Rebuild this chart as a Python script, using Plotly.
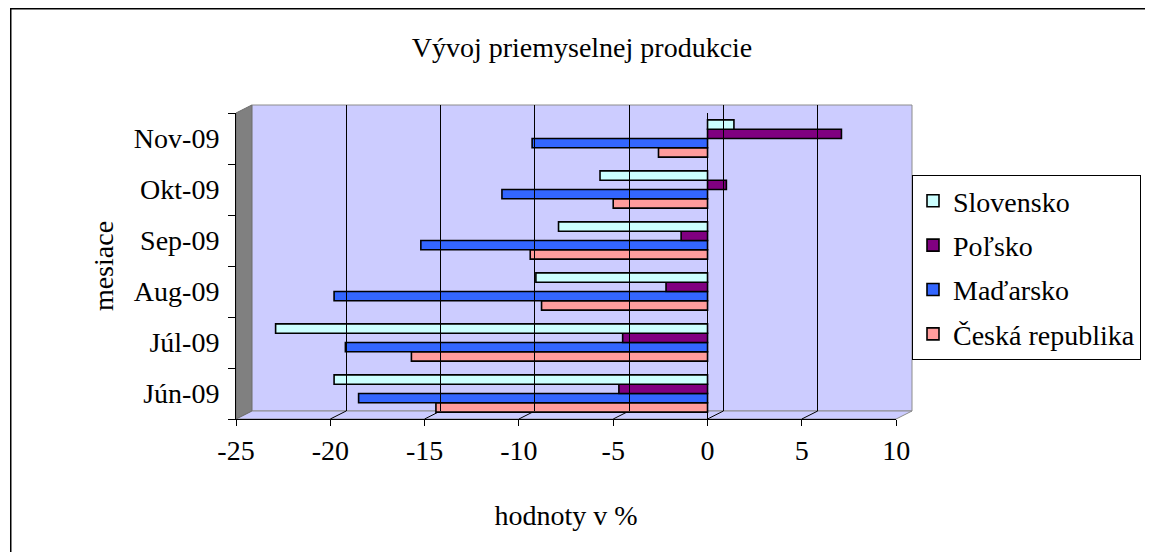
import plotly.graph_objects as go

# ---------------- data ----------------
months = ["Jún-09", "Júl-09", "Aug-09", "Sep-09", "Okt-09", "Nov-09"]
slovensko = [-19.8, -22.9, -9.1, -7.9, -5.7, 1.4]
polsko = [-4.7, -4.5, -2.2, -1.4, 1.0, 7.1]
madarsko = [-18.5, -19.2, -19.8, -15.2, -10.9, -9.3]
ceska = [-14.4, -15.7, -8.8, -9.4, -5.0, -2.6]
x_ticks = [-25, -20, -15, -10, -5, 0, 5, 10]

series_names = ["Česká republika", "Maďarsko", "Poľsko", "Slovensko"]
series_values = [ceska, madarsko, polsko, slovensko]
series_colors = ["#FF9C9C", "#3366FF", "#800080", "#CCFFFF"]
legend_ranks = [4, 3, 2, 1]

# ---------------- geometry (page pixels of the reference) ----------------
PAGE_W, PAGE_H = 1153, 552
OFF = 8                     # browser body margin
W, H = PAGE_W - OFF, PAGE_H - OFF
L, RIGHT = 236, 918         # paper area left/right (page px)
TOP, B = 105, 419           # paper area top/bottom (page px)
DX, DY = 16, 8              # 3-D depth offset
PW, PH = RIGHT - L, B - TOP


def px(x):
    return (x - L) / PW


def py(y):
    return (B - y) / PH


FONT = "Liberation Serif"
FS = 28
WALL = "#CCCCFF"
EDGE = "#8C8C8C"

fig = go.Figure()

for name, vals, col, rank in zip(series_names, series_values, series_colors, legend_ranks):
    fig.add_trace(go.Bar(
        y=months, x=vals, orientation="h", name=name, legendgroup=name, legendrank=rank,
        marker=dict(color=col, line=dict(color="black", width=1.6)),
        xaxis="x", yaxis="y",
    ))

# invisible trace for the back-wall subplot
fig.add_trace(go.Scatter(x=[None], y=[None], xaxis="x2", yaxis="y2",
                         showlegend=False, hoverinfo="skip"))

shapes = []
# outer chart frame
shapes.append(dict(type="rect", xref="paper", yref="paper",
                   x0=px(OFF + 0.75), x1=px(PAGE_W + 10), y0=py(PAGE_H + 10), y1=py(OFF + 0.75),
                   line=dict(color="black", width=1.5), layer="below"))
# back wall
shapes.append(dict(type="rect", xref="paper", yref="paper",
                   x0=px(L + DX), x1=px(RIGHT), y0=py(B - DY), y1=py(TOP),
                   fillcolor=WALL, line=dict(color=EDGE, width=1), layer="below"))
# floor
shapes.append(dict(type="path", xref="paper", yref="paper",
                   path=f"M {px(L)} {py(B)} L {px(L+DX)} {py(B-DY)} L {px(RIGHT)} {py(B-DY)} "
                        f"L {px(RIGHT-DX)} {py(B)} Z",
                   fillcolor=WALL, line=dict(color=EDGE, width=1), layer="below"))
# left wall
shapes.append(dict(type="path", xref="paper", yref="paper",
                   path=f"M {px(L)} {py(B)} L {px(L+DX)} {py(B-DY)} L {px(L+DX)} {py(TOP)} "
                        f"L {px(L)} {py(TOP+DY)} Z",
                   fillcolor="#808080", line=dict(color="#6E6E6E", width=1), layer="below"))
# floor grid diagonals
unit_px = (RIGHT - DX - L) / (x_ticks[-1] - x_ticks[0])
for v in x_ticks[1:]:
    shapes.append(dict(type="line", xref="x", yref="paper",
                       x0=v, x1=v + DX / unit_px, y0=py(B), y1=py(B - DY),
                       line=dict(color="black", width=1), layer="below"))

fig.update_layout(
    width=W, height=H, autosize=False,
    margin=dict(l=L - OFF, r=PAGE_W - RIGHT, t=TOP - OFF, b=PAGE_H - B, pad=0),
    paper_bgcolor="white", plot_bgcolor="rgba(0,0,0,0)",
    barmode="group", bargap=0.27, bargroupgap=0,
    font=dict(family=FONT, size=FS, color="black"),
    title=dict(text="Vývoj priemyselnej produkcie", x=(582 - OFF) / W, xref="container",
               xanchor="center", y=1 - (47 - OFF) / H, yref="container", yanchor="middle",
               font=dict(family=FONT, size=FS, color="black")),
    showlegend=True,
    legend=dict(traceorder="grouped", tracegroupgap=5,
                x=px(918), y=py(175), xanchor="left", yanchor="top",
                bgcolor="white", bordercolor="black", borderwidth=1,
                font=dict(family=FONT, size=FS, color="black")),
    xaxis=dict(domain=[0, px(RIGHT - DX)], anchor="y", range=[x_ticks[0], x_ticks[-1]],
               tickvals=x_ticks, ticktext=[str(t) for t in x_ticks],
               showgrid=False, zeroline=True, zerolinecolor="black", zerolinewidth=1,
               showline=True, linecolor="black", linewidth=1,
               ticks="outside", ticklen=6, tickcolor="black",
               tickfont=dict(family=FONT, size=FS),
               title=dict(text="hodnoty v %", standoff=40, font=dict(family=FONT, size=FS)),
               fixedrange=True),
    yaxis=dict(domain=[0, py(TOP + DY)], anchor="x", type="category",
               categoryorder="array", categoryarray=months,
               showgrid=False, zeroline=False,
               showline=True, linecolor="black", linewidth=1,
               ticks="outside", ticklen=7, tickcolor="black", tickson="boundaries",
               ticklabelstandoff=10,
               tickfont=dict(family=FONT, size=FS),
               title=dict(text="mesiace", standoff=12, font=dict(family=FONT, size=FS)),
               fixedrange=True),
    xaxis2=dict(domain=[px(L + DX), 1], anchor="y2", range=[x_ticks[0], x_ticks[-1]],
                tickvals=x_ticks, showticklabels=False, ticks="",
                showgrid=True, gridcolor="black", gridwidth=1,
                zeroline=False, showline=False, fixedrange=True),
    yaxis2=dict(domain=[py(B - DY), 1], anchor="x2", range=[0, 1],
                showgrid=False, zeroline=False, showline=False,
                showticklabels=False, ticks="", fixedrange=True),
    shapes=shapes,
)

fig.write_html("out.html")
